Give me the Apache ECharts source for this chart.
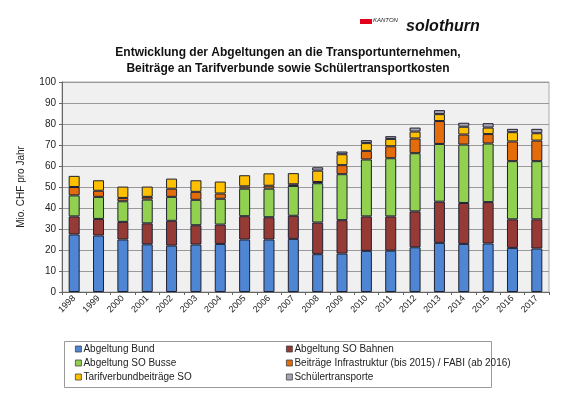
<!DOCTYPE html>
<html>
<head>
<meta charset="utf-8">
<script src="https://cdn.jsdelivr.net/npm/echarts@6/dist/echarts.min.js"></script>
<style>
  html, body { margin: 0; padding: 0; background: #fff; }
  #chart { width: 570px; height: 397px; }
</style>
</head>
<body>
<div id="chart"></div>
<script>
// Jahre
const years = ['1998', '1999', '2000', '2001', '2002', '2003', '2004', '2005', '2006', '2007',
  '2008', '2009', '2010', '2011', '2012', '2013', '2014', '2015', '2016', '2017'];

// Werte in Mio. CHF
const abgeltungBund = [27.4, 26.9, 25.0, 22.7, 22.1, 22.6, 22.9, 25.0, 25.0, 25.3,
  18.0, 18.3, 19.6, 19.7, 21.3, 23.4, 22.9, 23.1, 21.0, 20.7];
const abgeltungBahnen = [8.6, 7.9, 8.4, 10.0, 11.8, 9.2, 9.2, 11.1, 10.6, 11.0,
  15.1, 15.9, 16.4, 16.3, 17.1, 19.6, 19.5, 19.7, 13.6, 13.9];
const abgeltungBusse = [10.0, 10.5, 9.8, 11.3, 11.4, 12.1, 12.3, 13.1, 13.6, 14.2,
  18.7, 21.9, 27.1, 27.7, 27.7, 27.5, 27.8, 27.9, 27.7, 27.7];
const infrastruktur = [4.0, 2.9, 1.6, 1.3, 3.9, 3.8, 2.5, 1.1, 1.4, 0.8,
  0.6, 4.3, 4.1, 5.7, 7.0, 10.9, 4.8, 4.5, 9.4, 9.8];
const tarifverbund = [5.3, 5.0, 5.4, 4.9, 4.8, 5.5, 5.7, 5.3, 5.9, 5.3,
  5.4, 5.2, 3.7, 3.5, 3.3, 3.3, 3.7, 3.1, 4.4, 3.5];
const schuelertransporte = [0, 0, 0, 0, 0, 0, 0, 0, 0, 0,
  1.6, 1.3, 1.4, 1.3, 1.9, 1.9, 1.9, 2.1, 1.6, 2.1];

const serien = [
  { name: 'Abgeltung Bund', data: abgeltungBund, color: '#4F86D4' },
  { name: 'Abgeltung SO Bahnen', data: abgeltungBahnen, color: '#963A36' },
  { name: 'Abgeltung SO Busse', data: abgeltungBusse, color: '#92D050' },
  { name: 'Beiträge Infrastruktur (bis 2015) / FABI (ab 2016)', data: infrastruktur, color: '#E46C0A' },
  { name: 'Tarifverbundbeiträge SO', data: tarifverbund, color: '#FFC000' },
  { name: 'Schülertransporte', data: schuelertransporte, color: '#A9A4B4' }
];

const myChart = echarts.init(document.getElementById('chart'));

const legendStyle = {
  orient: 'vertical',
  top: 339,
  itemWidth: 6,
  itemHeight: 6,
  itemGap: 4,
  icon: 'rect',
  textStyle: { fontFamily: 'Liberation Sans', fontSize: 10, color: '#222', padding: [0, 0, 0, -3] },
  itemStyle: { borderColor: '#444', borderWidth: 0.8 }
};

const options = {
  backgroundColor: '#fff',
  animation: false,
  title: {
    text: 'Entwicklung der Abgeltungen an die Transportunternehmen,\nBeiträge an Tarifverbunde sowie Schülertransportkosten',
    left: 283,
    top: 40,
    textAlign: 'center',
    textStyle: { fontFamily: 'Liberation Sans', fontSize: 12, fontWeight: 'bold', color: '#111', lineHeight: 16 }
  },
  graphic: [
    // Logo
    { type: 'rect', shape: { x: 360, y: 19, width: 12, height: 5 }, style: { fill: '#E3001B' } },
    { type: 'text', x: 373, y: 17, style: { text: 'KANTON', font: 'italic 6px Liberation Sans', fill: '#222' } },
    { type: 'text', x: 406, y: 19, style: { text: 'solothurn', font: 'italic bold 16px Liberation Sans', fill: '#111' } },
    // Legendenrahmen
    { type: 'rect', shape: { x: 64.5, y: 341.5, width: 427, height: 46 }, style: { fill: 'none', stroke: '#999', lineWidth: 1 } }
  ],
  legend: [
    Object.assign({ left: 70, data: [serien[0].name, serien[2].name, serien[4].name] }, legendStyle),
    Object.assign({ left: 281, data: [serien[1].name, serien[3].name, serien[5].name] }, legendStyle)
  ],
  grid: {
    left: 62,
    right: 21,
    top: 82,
    bottom: 105,
    show: true,
    backgroundColor: '#F0F0F0',
    borderColor: '#aaa',
    borderWidth: 1
  },
  xAxis: {
    type: 'category',
    data: years,
    axisLine: { lineStyle: { color: '#666' } },
    axisTick: { show: true, length: 3, lineStyle: { color: '#666' } },
    axisLabel: {
      rotate: 45,
      margin: 5,
      fontFamily: 'Liberation Sans',
      fontSize: 9,
      color: '#222'
    }
  },
  yAxis: {
    type: 'value',
    min: 0,
    max: 100,
    interval: 10,
    name: 'Mio. CHF pro Jahr',
    nameLocation: 'middle',
    nameGap: 36,
    nameTextStyle: { fontFamily: 'Liberation Sans', fontSize: 10, color: '#222' },
    axisLine: { show: true, lineStyle: { color: '#666' } },
    axisTick: { show: true, length: 3, lineStyle: { color: '#666' } },
    axisLabel: { fontFamily: 'Liberation Sans', fontSize: 10, color: '#222', margin: 6 },
    splitLine: { lineStyle: { color: '#999', width: 1 } }
  },
  series: serien.map(function (s) {
    return {
      name: s.name,
      type: 'bar',
      stack: 'total',
      barWidth: 11,
      data: s.data.map(function (v) { return v === 0 ? '-' : v; }),
      itemStyle: { color: s.color, borderColor: '#1E2030', borderWidth: 1 }
    };
  })
};

myChart.setOption(options);
</script>
</body>
</html>
